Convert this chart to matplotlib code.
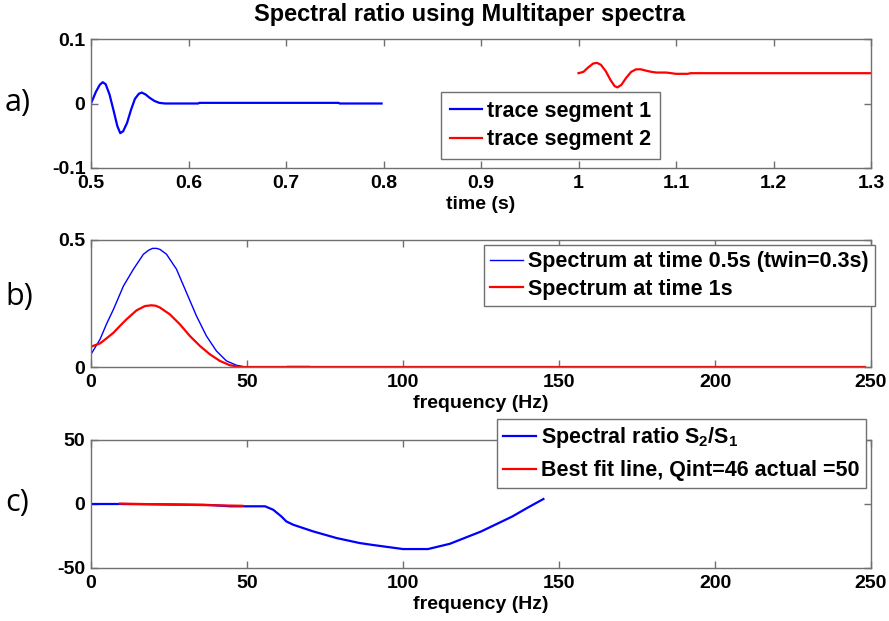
import matplotlib
matplotlib.use("Agg")
import matplotlib.pyplot as plt

# ---------------- data ----------------
t_seg1 = [0.500, 0.505, 0.509, 0.512, 0.515, 0.519, 0.523, 0.527, 0.530, 0.533,
          0.537, 0.541, 0.545, 0.549, 0.552, 0.556, 0.560, 0.565, 0.570, 0.576,
          0.610, 0.611, 0.754, 0.755, 0.798]
v_seg1 = [0.000, 0.018, 0.029, 0.033, 0.030, 0.014, -0.010, -0.035, -0.046, -0.043,
          -0.030, -0.010, 0.007, 0.015, 0.017, 0.014, 0.009, 0.004, 0.001, 0.000,
          0.000, 0.001, 0.001, 0.000, 0.000]

t_seg2 = [1.000, 1.005, 1.010, 1.015, 1.019, 1.023, 1.028, 1.033, 1.037, 1.040,
          1.044, 1.049, 1.054, 1.059, 1.064, 1.069, 1.075, 1.080, 1.090, 1.100,
          1.112, 1.115, 1.300]
v_seg2 = [0.047, 0.049, 0.056, 0.062, 0.063, 0.060, 0.050, 0.036, 0.027, 0.025,
          0.029, 0.040, 0.049, 0.053, 0.053, 0.051, 0.049, 0.048, 0.048, 0.046,
          0.046, 0.047, 0.047]

f_spec1 = [0, 2.9, 5.0, 7.2, 10.4, 13.6, 16.8, 18.5, 19.7, 21.0, 22.1, 24.2, 27.4,
           30.6, 33.8, 37.0, 40.2, 43.4, 46.6, 49.5, 55, 62, 63, 70, 71, 248]
s_spec1 = [0.050, 0.109, 0.170, 0.227, 0.319, 0.385, 0.444, 0.460, 0.467, 0.467,
           0.463, 0.444, 0.385, 0.293, 0.201, 0.122, 0.063, 0.024, 0.007, 0.000,
           0.000, 0.000, 0.002, 0.002, 0.000, 0.000]

f_spec2 = [0, 2.9, 5.0, 7.2, 9.3, 11.4, 14.6, 17.3, 19.4, 20.8, 22.1, 25.3, 28.5,
           31.7, 34.9, 38.1, 41.3, 44.5, 47.7, 248]
s_spec2 = [0.080, 0.093, 0.113, 0.135, 0.162, 0.188, 0.223, 0.240, 0.243, 0.241,
           0.234, 0.207, 0.168, 0.122, 0.083, 0.050, 0.024, 0.007, 0.000, 0.000]

f_ratio = [0, 9.3, 36, 39, 44.7, 55.8, 58.4, 61.0, 62.6, 64.8, 71.2, 78.7, 86.1,
           90, 100, 108, 115, 125, 135, 140, 145]
r_ratio = [0.0, 0.0, -0.6, -0.9, -1.8, -1.8, -4.5, -9.7, -13.6, -16.2, -21.4,
           -26.6, -30.5, -31.9, -35.2, -35.2, -31.1, -21.5, -9.8, -2.8, 3.9]

f_fit = [9.3, 48.5]
r_fit = [0.3, -1.4]

title_text = "Spectral ratio using Multitaper spectra"
panel_labels = ["a)", "b)", "c)"]
legend_a = ["trace segment 1", "trace segment 2"]
legend_b = ["Spectrum at time 0.5s (twin=0.3s)", "Spectrum at time 1s"]
legend_c = [r"Spectral ratio S$_\mathbf{2}$/S$_\mathbf{1}$",
            "Best fit line, Qint=46 actual =50"]
xticks_a = [0.5, 0.6, 0.7, 0.8, 0.9, 1.0, 1.1, 1.2, 1.3]
xticklabels_a = ["0.5", "0.6", "0.7", "0.8", "0.9", "1", "1.1", "1.2", "1.3"]
yticks_a = [-0.1, 0, 0.1]
yticklabels_a = ["-0.1", "0", "0.1"]
xticks_f = [0, 50, 100, 150, 200, 250]
yticks_b = [0, 0.5]
yticklabels_b = ["0", "0.5"]
yticks_c = [-50, 0, 50]
yticklabels_c = ["-50", "0", "50"]

# ---------------- style ----------------
plt.rcParams['font.family'] = ['Liberation Sans', 'DejaVu Sans']
plt.rcParams['font.weight'] = 'bold'
plt.rcParams['axes.unicode_minus'] = False
plt.rcParams['mathtext.fontset'] = 'custom'
plt.rcParams['mathtext.rm'] = 'Liberation Sans:bold'
plt.rcParams['mathtext.it'] = 'Liberation Sans:bold'
plt.rcParams['mathtext.bf'] = 'Liberation Sans:bold'

W, H = 889, 621
fig = plt.figure(figsize=(W / 100, H / 100), dpi=100)
fig.patch.set_facecolor('white')

spine_col = '#707070'
tick_fs = 14
leg_fs = 15.5


def ax_rect(left, top, right, bottom):
    return [left / W, 1 - bottom / H, (right - left) / W, (bottom - top) / H]


def style(ax):
    for s in ax.spines.values():
        s.set_color(spine_col)
        s.set_linewidth(1.0)
    ax.tick_params(direction='in', length=5, width=1.0, colors=spine_col,
                   labelcolor='black', labelsize=tick_fs, top=True, right=True,
                   pad=4)
    ax.tick_params(axis='x', pad=5)
    for lab in ax.get_xticklabels() + ax.get_yticklabels():
        lab.set_fontweight('bold')


def make_legend(ax, loc, anchor, spacing, bpad):
    lg = ax.legend(loc=loc, bbox_to_anchor=anchor,
                   bbox_transform=fig.transFigure, borderaxespad=0,
                   prop={'weight': 'bold', 'size': leg_fs},
                   fancybox=False, framealpha=1, edgecolor=spine_col,
                   handlelength=1.5, handletextpad=0.25, borderpad=bpad,
                   labelspacing=spacing)
    lg.get_frame().set_linewidth(1.0)
    return lg


# ----- panel a -----
axa = fig.add_axes(ax_rect(91, 39, 871, 168))
axa.plot(t_seg1, v_seg1, color='#0000ff', lw=1.6, label=legend_a[0])
axa.plot(t_seg2, v_seg2, color='#ff0000', lw=1.6, label=legend_a[1])
axa.set_xlim(0.5, 1.3)
axa.set_ylim(-0.1, 0.1)
axa.set_xticks(xticks_a)
axa.set_xticklabels(xticklabels_a)
axa.set_yticks(yticks_a)
axa.set_yticklabels(yticklabels_a)
axa.set_xlabel("time (s)", fontsize=tick_fs, fontweight='bold', labelpad=3)
style(axa)
make_legend(axa, 'upper left', (441 / W, 1 - 92 / H), 0.35, 0.4)

# ----- panel b -----
axb = fig.add_axes(ax_rect(91, 240, 871, 367))
axb.plot(f_spec1, s_spec1, color='#0000ff', lw=1.0, label=legend_b[0])
axb.plot(f_spec2, s_spec2, color='#ff0000', lw=1.6, label=legend_b[1])
axb.set_xlim(0, 250)
axb.set_ylim(0, 0.5)
axb.set_xticks(xticks_f)
axb.set_yticks(yticks_b)
axb.set_yticklabels(yticklabels_b)
axb.set_xlabel("frequency (Hz)", fontsize=tick_fs, fontweight='bold', labelpad=3)
style(axb)
make_legend(axb, 'upper right', (875 / W, 1 - 245 / H), 0.3, 0.3)

# ----- panel c -----
axc = fig.add_axes(ax_rect(91, 440, 871, 568))
axc.plot(f_ratio, r_ratio, color='#0000ff', lw=1.6, label=legend_c[0])
axc.plot(f_fit, r_fit, color='#ff0000', lw=1.6, label=legend_c[1])
axc.set_xlim(0, 250)
axc.set_ylim(-50, 50)
axc.set_xticks(xticks_f)
axc.set_yticks(yticks_c)
axc.set_yticklabels(yticklabels_c)
axc.set_xlabel("frequency (Hz)", fontsize=tick_fs, fontweight='bold', labelpad=3)
style(axc)
make_legend(axc, 'upper right', (866 / W, 1 - 419 / H), 0.45, 0.3)

# ----- title and panel labels -----
fig.text(470 / W, 1 - 15 / H, title_text, ha='center', va='center',
         fontsize=17, fontweight='bold')
for lab, yc in zip(panel_labels, [103, 297, 503]):
    fig.text(5 / W, 1 - yc / H, lab, ha='left', va='center', fontsize=22,
             fontweight='normal', family=['Open Sans', 'DejaVu Sans'])

fig.savefig("out.png", dpi=100, facecolor='white')
